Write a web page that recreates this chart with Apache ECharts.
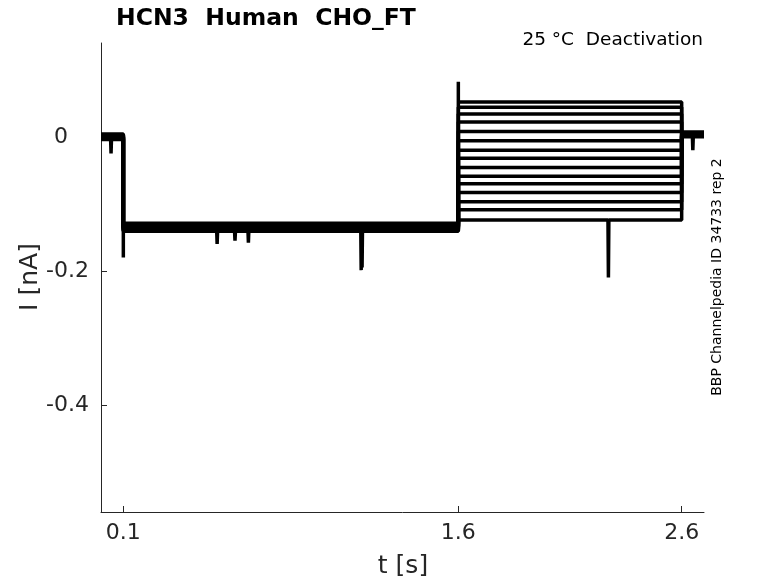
<!DOCTYPE html>
<html>
<head>
<meta charset="utf-8">
<script src="https://cdn.jsdelivr.net/npm/echarts@6/dist/echarts.min.js"></script>
<style>html,body{margin:0;padding:0;background:#fff}#c{width:778px;height:583px}</style>
</head>
<body>
<div id="c"></div>
<script>
// ---- data ----
const xTicks = [0.1, 1.6, 2.6];
const yTicks = [0, -0.2, -0.4];
const tStart = 0, tStep = 0.1, tTail = 1.6, tEnd = 2.6, tStop = 2.7;
// per-sweep current levels (nA)
const holdLevels = [0.004, 0.003, 0.002, 0.001, 0.000, -0.001, -0.002, -0.003, 0.003, 0.001, -0.001, -0.004, 0.002, 0.000, -0.002];
const stepLevels = [-0.129, -0.130, -0.131, -0.132, -0.133, -0.134, -0.135, -0.136, -0.137, -0.138, -0.139, -0.140, -0.141, -0.135, -0.133];
const tailLevels = [0.052, 0.044, 0.034, 0.022, 0.008, -0.006, -0.020, -0.032, -0.046, -0.059, -0.070, -0.083, -0.097, -0.109, -0.124];
const postLevels = [0.007, 0.006, 0.005, 0.004, 0.003, 0.002, 0.001, 0.000, 0.006, 0.004, 0.002, 0.005, 0.003, 0.001, 0.004];
// transients / artefacts: [sweep index, time, current]
const spikes = [
  [7, 0.045, -0.025],
  [5, 0.100, -0.180],
  [3, 1.165, -0.199],
  [4, 1.169, -0.195],
  [11, 0.52, -0.160],
  [12, 0.60, -0.155],
  [10, 0.66, -0.158],
  [0, 1.600, 0.082],
  [14, 2.272, -0.210],
  [6, 2.650, -0.020]
];

function sweepData(i) {
  const pts = [
    [tStart, holdLevels[i]], [tStep, holdLevels[i]],
    [tStep, stepLevels[i]], [tTail, stepLevels[i]],
    [tTail, tailLevels[i]], [tEnd, tailLevels[i]],
    [tEnd, postLevels[i]], [tStop, postLevels[i]]
  ];
  spikes.filter(s => s[0] === i).forEach(s => {
    const t = s[1];
    let base;
    if (t < tStep) base = holdLevels[i];
    else if (t < tTail) base = stepLevels[i];
    else if (t < tEnd) base = tailLevels[i];
    else base = postLevels[i];
    if (t === tStep) { pts.splice(2, 0, [t, s[2]]); }
    else if (t === tTail) { pts.splice(4, 0, [t, s[2]]); }
    else {
      const k = pts.findIndex(p => p[0] > t);
      pts.splice(k, 0, [t - 0.002, base], [t, s[2]], [t + 0.002, base]);
    }
  });
  return pts;
}

const series = tailLevels.map((_, i) => ({
  type: 'line',
  data: sweepData(i),
  showSymbol: false,
  symbol: 'none',
  lineStyle: { color: '#000', width: 3.5 },
  animation: false,
  silent: true
}));

const axisColor = '#262626';
const chart = echarts.init(document.getElementById('c'), null, { renderer: 'canvas' });
chart.setOption({
  animation: false,
  backgroundColor: '#fff',
  grid: { left: 101, right: 74, top: 43, bottom: 71 },
  xAxis: {
    type: 'value', min: 0, max: 2.7,
    splitLine: { show: false },
    axisLine: { onZero: false, lineStyle: { color: axisColor, width: 1 } },
    axisTick: { inside: true, length: 6, lineStyle: { color: axisColor }, customValues: xTicks },
    axisLabel: { customValues: xTicks, color: axisColor, fontSize: 22, fontFamily: 'DejaVu Sans', margin: 10,
      formatter: v => String(v) }
  },
  yAxis: {
    type: 'value', min: -0.56, max: 0.14,
    splitLine: { show: false },
    axisLine: { show: true, onZero: false, lineStyle: { color: axisColor, width: 1 } },
    axisTick: { show: true, inside: true, length: 6, lineStyle: { color: axisColor }, customValues: yTicks },
    axisLabel: { customValues: yTicks, color: axisColor, fontSize: 22, fontFamily: 'DejaVu Sans', margin: 55, align: 'left',
      formatter: v => (v === 0 ? '{h|-}0' : String(v)),
      rich: { h: { color: 'rgba(0,0,0,0)', fontSize: 22, fontFamily: 'DejaVu Sans' } } }
  },
  graphic: [
    { type: 'text', left: 116, top: 7, style: { text: 'HCN3  Human  CHO_FT', font: 'bold 23.5px "DejaVu Sans"', fill: '#000' } },
    { type: 'text', x: 703, y: 40, style: { text: '25 °C  Deactivation', font: '18.5px "DejaVu Sans"', fill: '#000', align: 'right', verticalAlign: 'middle' } },
    { type: 'text', x: 717, y: 277, rotation: Math.PI / 2, style: { text: 'BBP Channelpedia ID 34733 rep 2', font: '14px "DejaVu Sans"', fill: '#000', align: 'center', verticalAlign: 'middle' } },
    { type: 'text', x: 30, y: 277, rotation: Math.PI / 2, style: { text: 'I [nA]', font: '25px "DejaVu Sans"', fill: axisColor, align: 'center', verticalAlign: 'middle' } },
    { type: 'text', x: 403, y: 566, style: { text: 't [s]', font: '25px "DejaVu Sans"', fill: axisColor, align: 'center', verticalAlign: 'middle' } }
  ],
  series: series
});
</script>
</body>
</html>
